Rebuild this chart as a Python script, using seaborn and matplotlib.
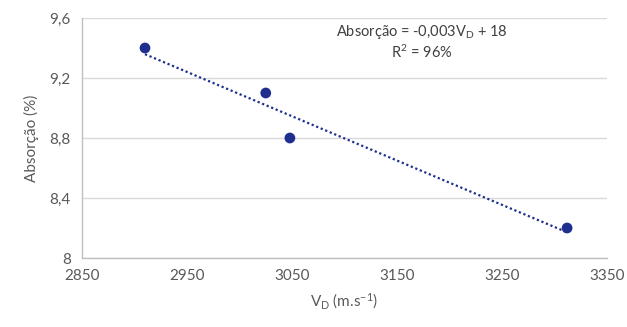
import matplotlib
matplotlib.use("Agg")
import matplotlib.pyplot as plt
import seaborn as sns
import pandas as pd
import numpy as np

vd = [2910, 3025, 3048, 3312]
absorcao = [9.4, 9.1, 8.8, 8.2]
x_ticks = [2850, 2950, 3050, 3150, 3250, 3350]
y_ticks = [8.0, 8.4, 8.8, 9.2, 9.6]
y_tick_labels = ["8", "8,4", "8,8", "9,2", "9,6"]
equation_text = "Absorção = -0,003V$_D$ + 18"
r2_text = "R$^2$ = 96%"

sns.set_theme(style="white")
plt.rcParams['font.family'] = ['Lato', 'DejaVu Sans']
plt.rcParams['mathtext.default'] = 'regular'

df = pd.DataFrame({"vd": vd, "abs": absorcao})
point_color = "#1f2f8f"
text_color = "#595959"

fig = plt.figure(figsize=(6.27, 3.27), dpi=100)
ax = fig.add_axes([82/627, 1 - 258/327, (607-82)/627, (258-18)/327])

sns.regplot(data=df, x="vd", y="abs", ax=ax, ci=None,
            scatter_kws=dict(s=60, color=point_color, edgecolor="none", alpha=1, zorder=3),
            line_kws=dict(color=point_color, linestyle=(0, (1, 1.2)), linewidth=1.6, zorder=2))

ax.set_xlim(2850, 3350)
ax.set_ylim(8.0, 9.6)
ax.set_xticks(x_ticks)
ax.set_xticklabels([str(t) for t in x_ticks])
ax.set_yticks(y_ticks)
ax.set_yticklabels(y_tick_labels)
ax.tick_params(axis='both', labelsize=11, colors=text_color, length=0, pad=8)
ax.yaxis.grid(True, color="#d9d9d9", linewidth=1)
ax.set_axisbelow(True)
for s in ["top", "right"]:
    ax.spines[s].set_visible(False)
for s in ["left", "bottom"]:
    ax.spines[s].set_color("#bfbfbf")
    ax.spines[s].set_linewidth(1)

ax.set_xlabel("V$_D$ (m.s$^{-1}$)", fontsize=11, color=text_color, labelpad=6)
ax.set_ylabel("Absorção (%)", fontsize=11, color=text_color, labelpad=8)

ax.text(0.647, 0.94, equation_text, transform=ax.transAxes, ha="center", va="center",
        fontsize=10.5, color="#404040")
ax.text(0.647, 0.855, r2_text, transform=ax.transAxes, ha="center", va="center",
        fontsize=10.5, color="#404040")

fig.savefig("out.png", dpi=100)
